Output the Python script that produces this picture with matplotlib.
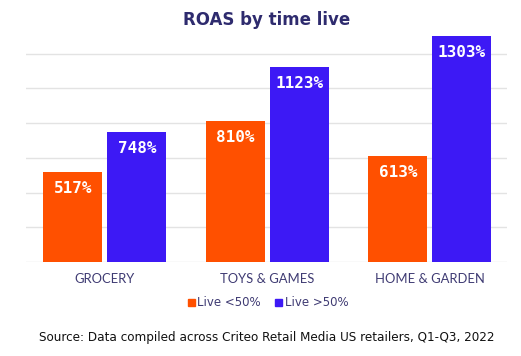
import matplotlib
matplotlib.use("Agg")
import matplotlib.pyplot as plt
import numpy as np
from matplotlib.patches import Patch

categories = ["GROCERY", "TOYS & GAMES", "HOME & GARDEN"]
live_under_50 = [517, 810, 613]
live_over_50 = [748, 1123, 1303]
series_labels = ["Live <50%", "Live >50%"]

ORANGE = "#FF5000"
BLUE = "#3D19F5"
NAVY = "#2E2B6E"
TICK = "#3F3B73"

fig = plt.figure(figsize=(5.21, 3.56), dpi=100)
ax = fig.add_axes([26 / 521, 1 - 262 / 356, 481 / 521, 231 / 356])

x = np.arange(len(categories))
w = 0.363
off = 0.197
b1 = ax.bar(x - off, live_under_50, w, color=ORANGE, zorder=3)
b2 = ax.bar(x + off, live_over_50, w, color=BLUE, zorder=3)

# value labels sit inside the top of each bar
for bars, vals in ((b1, live_under_50), (b2, live_over_50)):
    for rect, v in zip(bars, vals):
        ax.annotate(f"{v}%", (rect.get_x() + rect.get_width() / 2, v),
                    xytext=(0, -6.5), textcoords="offset points",
                    ha="center", va="top", color="white",
                    fontsize=11.5, fontweight="bold", family="DejaVu Sans Mono",
                    zorder=4)

ax.set_xlim(-0.486, 2.474)
ax.set_ylim(0, 1331)
ax.set_yticks(np.arange(0, 1400, 200))
ax.yaxis.grid(True, color="#E3E3E3", linewidth=1, zorder=0)
ax.tick_params(axis="y", left=False, labelleft=False)
ax.tick_params(axis="x", length=0, pad=8)
ax.set_xticks(x)
ax.set_xticklabels(categories, family="Lato", fontsize=9.4, color=TICK)
for s in ax.spines.values():
    s.set_visible(False)

fig.text(267 / 521, 1 - 20 / 356, "ROAS by time live", ha="center", va="center",
         family="DejaVu Sans", fontweight="bold", fontsize=12, color=NAVY)

handles = [Patch(color=ORANGE), Patch(color=BLUE)]
fig.legend(handles, series_labels, loc="center", bbox_to_anchor=(268 / 521, 1 - 303 / 356),
           ncol=2, frameon=False, handlelength=0.6, handleheight=0.6,
           handletextpad=0.2, columnspacing=1.2,
           prop={"family": "DejaVu Sans", "size": 8.5}, labelcolor=TICK)

fig.text(267 / 521, 1 - 337 / 356,
         "Source: Data compiled across Criteo Retail Media US retailers, Q1-Q3, 2022",
         ha="center", va="center", family="DejaVu Sans", fontsize=8.65, color="#111111")

fig.savefig("out.png", dpi=100)
